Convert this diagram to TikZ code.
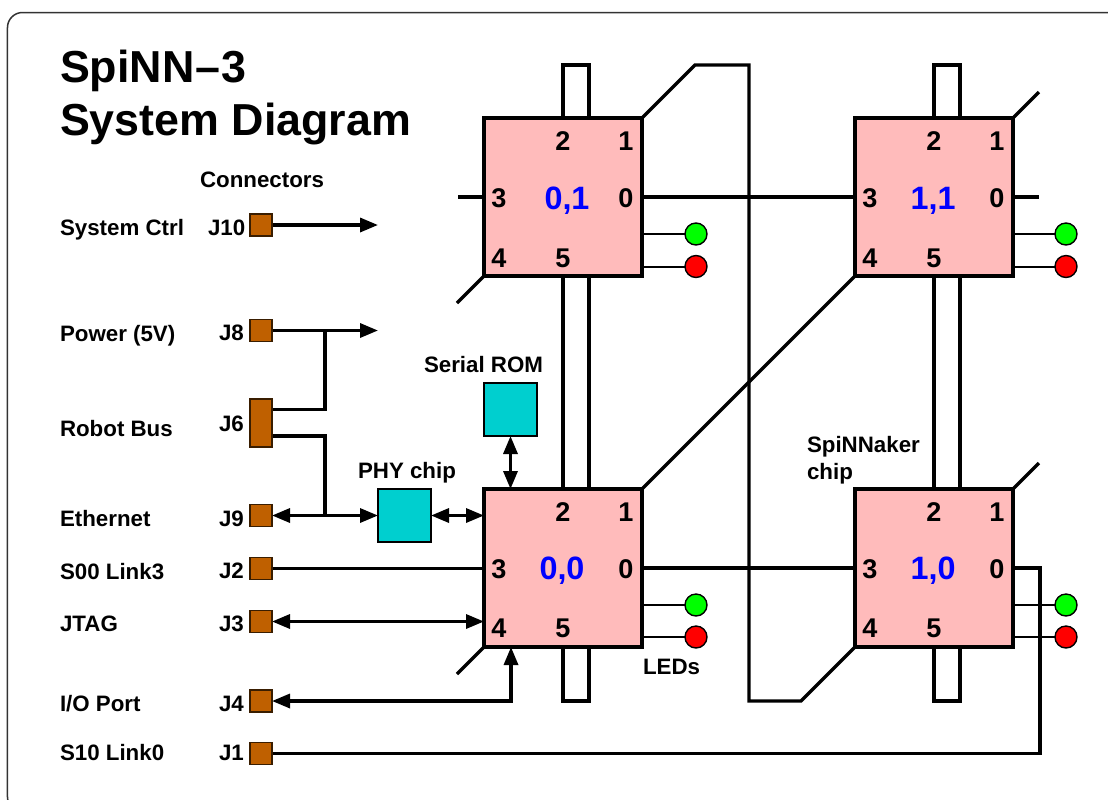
\documentclass[tikz,border=0pt]{standalone}
\usepackage{fontspec}
\setmainfont{Liberation Sans}
\usetikzlibrary{arrows.meta}
\pgfdeclarelayer{bg}
\pgfsetlayers{bg,main}
\definecolor{chippink}{RGB}{255,187,187}
\definecolor{portbrown}{RGB}{191,96,0}
\definecolor{devcyan}{RGB}{0,207,207}
\tikzset{
    every node/.style={inner sep=0mm, outer sep=0mm, font=\bfseries\fontsize{6.35}{7}\selectfont},
    title/.style={anchor=base west, font=\bfseries\fontsize{12.75}{14}\selectfont},
    lbl/.style={anchor=base west},
    num/.style={font=\bfseries\fontsize{7.7}{8}\selectfont},
    coord/.style={anchor=base, text=blue, font=\bfseries\fontsize{9.2}{10}\selectfont},
    chip/.style={rectangle, draw, line width=.36mm, fill=chippink, minimum size=1.58cm},
    port/.style={rectangle, draw=black!70!portbrown, line width=.12mm, fill=portbrown, minimum size=.22cm},
    dev/.style={rectangle, draw, line width=.22mm, fill=devcyan, minimum size=.53cm},
    led/.style={circle, draw, line width=.14mm, minimum size=.22cm},
    link/.style={line width=.33mm},
    thinlink/.style={line width=.2mm},
    tip/.style={-{Triangle[length=1.8mm,width=1.4mm]}},
    bitip/.style={{Triangle[length=1.8mm,width=1.4mm]}-{Triangle[length=1.8mm,width=1.4mm]}}
}

\begin{document}
\begin{tikzpicture}[y=-1cm]
    \useasboundingbox (0,0) rectangle (11.08,7.99);
    \clip (0,0) rectangle (11.08,7.99);
    \draw [line width=.15mm, black!80, rounded corners=.15cm] (.075,.125) rectangle (11.6,8.12);

    \node (title1) [title] at (.60,.82) {SpiNN\kern.03em–\kern.03em3};
    \node (title2) [title] at (.60,1.35) {System Diagram};
    \node (connlbl) [lbl] at (2.00,1.87) {Connectors};

    % left column of names
    \node (nctrl) [lbl] at (.60,2.35) {System Ctrl};
    \node (npower) [lbl] at (.60,3.41) {Power (5V)};
    \node (nrobot) [lbl] at (.60,4.36) {Robot Bus};
    \node (neth) [lbl] at (.60,5.26) {Ethernet};
    \node (nsoo) [lbl] at (.60,5.79) {S00 Link3};
    \node (njtag) [lbl] at (.60,6.31) {JTAG};
    \node (nio) [lbl] at (.60,7.11) {I/O Port};
    \node (nsio) [lbl] at (.60,7.60) {S10 Link0};

    \node (lj10) [lbl] at (2.08,2.35) {J10};
    \node (lj8) [lbl] at (2.19,3.40) {J8};
    \node (lj6) [lbl] at (2.19,4.31) {J6};
    \node (lj9) [lbl] at (2.19,5.26) {J9};
    \node (lj2) [lbl] at (2.19,5.78) {J2};
    \node (lj3) [lbl] at (2.19,6.31) {J3};
    \node (lj4) [lbl] at (2.19,7.11) {J4};
    \node (lj1) [lbl] at (2.19,7.60) {J1};

    % connectors
    \node (j10) [port] at (2.61,2.25) {};
    \node (j8) [port] at (2.61,3.305) {};
    \node (j6) [port, minimum height=.48cm] at (2.61,4.23) {};
    \node (j9) [port] at (2.61,5.155) {};
    \node (j2) [port] at (2.61,5.685) {};
    \node (j3) [port] at (2.61,6.215) {};
    \node (j4) [port] at (2.61,7.01) {};
    \node (j1) [port] at (2.61,7.535) {};

    \coordinate (ctrlend) at (3.78,2.25);
    \coordinate (powerend) at (3.78,3.305);
    \coordinate (buswest) at (3.25,4.095);
    \coordinate (buseast) at (3.25,4.36);

    % devices
    \node (romlbl) [lbl] at (4.24,3.72) {Serial ROM};
    \node (rom) [dev] at (5.105,4.095) {};
    \node (phylbl) [lbl] at (3.58,4.78) {PHY chip};
    \node (phy) [dev] at (4.045,5.155) {};
    \node (chiplbla) [lbl] at (8.07,4.52) {SpiNNaker};
    \node (chiplblb) [lbl] at (8.07,4.79) {chip};
    \node (ledlbl) [lbl] at (6.43,6.74) {LEDs};

    % chips
    \node (c01) [chip] at (5.63,1.97) {};
    \node (c11) [chip] at (9.34,1.97) {};
    \node (c00) [chip] at (5.63,5.68) {};
    \node (c10) [chip] at (9.34,5.68) {};

    \node (c01n) [coord] at (5.67,2.09) {0,1};
    \node (c01p0) [num] at (6.26,1.98) {0};
    \node (c01p1) [num] at (6.26,1.41) {1};
    \node (c01p2) [num] at (5.63,1.41) {2};
    \node (c01p3) [num] at (4.99,1.98) {3};
    \node (c01p4) [num] at (4.99,2.58) {4};
    \node (c01p5) [num] at (5.63,2.58) {5};

    \node (c11n) [coord] at (9.33,2.09) {1,1};
    \node (c11p0) [num] at (9.97,1.98) {0};
    \node (c11p1) [num] at (9.97,1.41) {1};
    \node (c11p2) [num] at (9.34,1.41) {2};
    \node (c11p3) [num] at (8.70,1.98) {3};
    \node (c11p4) [num] at (8.70,2.58) {4};
    \node (c11p5) [num] at (9.34,2.58) {5};

    \node (c00n) [coord] at (5.62,5.79) {0,0};
    \node (c00p0) [num] at (6.26,5.69) {0};
    \node (c00p1) [num] at (6.26,5.12) {1};
    \node (c00p2) [num] at (5.63,5.12) {2};
    \node (c00p3) [num] at (4.99,5.69) {3};
    \node (c00p4) [num] at (4.99,6.28) {4};
    \node (c00p5) [num] at (5.63,6.28) {5};

    \node (c10n) [coord] at (9.33,5.79) {1,0};
    \node (c10p0) [num] at (9.97,5.69) {0};
    \node (c10p1) [num] at (9.97,5.12) {1};
    \node (c10p2) [num] at (9.34,5.12) {2};
    \node (c10p3) [num] at (8.70,5.69) {3};
    \node (c10p4) [num] at (8.70,6.28) {4};
    \node (c10p5) [num] at (9.34,6.28) {5};

    % LEDs
    \node (g01) [led, fill=green] at (6.96,2.34) {};
    \node (r01) [led, fill=red] at (6.96,2.665) {};
    \node (g11) [led, fill=green] at (10.66,2.34) {};
    \node (r11) [led, fill=red] at (10.66,2.665) {};
    \node (g00) [led, fill=green] at (6.96,6.05) {};
    \node (r00) [led, fill=red] at (6.96,6.37) {};
    \node (g10) [led, fill=green] at (10.66,6.05) {};
    \node (r10) [led, fill=red] at (10.66,6.37) {};

    \begin{pgfonlayer}{bg}
        \draw [thinlink] (g01) -- (g01 -| c01.east);
        \draw [thinlink] (r01) -- (r01 -| c01.east);
        \draw [thinlink] (g11) -- (g11 -| c11.east);
        \draw [thinlink] (r11) -- (r11 -| c11.east);
        \draw [thinlink] (g00) -- (g00 -| c00.east);
        \draw [thinlink] (r00) -- (r00 -| c00.east);
        \draw [thinlink] (g10) -- (g10 -| c10.east);
        \draw [thinlink] (r10) -- (r10 -| c10.east);

        % vertical links
        \draw [link] (c01.north) -- ++(0,-.53) -| ([xshift=.26cm]c01.north);
        \draw [link] (c11.north) -- ++(0,-.53) -| ([xshift=.26cm]c11.north);
        \draw [link] (c00.south) -- ++(0,.54) -| ([xshift=.26cm]c00.south);
        \draw [link] (c10.south) -- ++(0,.54) -| ([xshift=.26cm]c10.south);
        \draw [link] (c01.south) -- (c00.north);
        \draw [link] ([xshift=.26cm]c01.south) -- ([xshift=.26cm]c00.north);
        \draw [link] (c11.south) -- (c10.north);
        \draw [link] ([xshift=.26cm]c11.south) -- ([xshift=.26cm]c10.north);

        % horizontal links
        \draw [link] (c01.west) -- ++(-.26,0);
        \draw [link] (c01.east) -- (c11.west);
        \draw [link] (c11.east) -- ++(.26,0);
        \draw [link] (c00.east) -- (c10.west);

        % diagonal links
        \draw [link] (c01.north east) -- ++(.53,-.53) -- ++(.54,0) -- ++(0,6.36) -- ++(.52,0) -- (c10.south west);
        \draw [link] (c00.north east) -- (c11.south west);
        \draw [link] (c01.south west) -- ++(-.27,.27);
        \draw [link] (c00.south west) -- ++(-.27,.27);
        \draw [link] (c11.north east) -- ++(.26,-.26);
        \draw [link] (c10.north east) -- ++(.26,-.26);

        % board connections
        \draw [link, tip] (j10.east) -- (ctrlend);
        \draw [link, tip] (j8.east) -- (powerend);
        \draw [link] (j6.east |- buswest) -| (j8.east -| buswest);
        \draw [link] (j6.east |- buseast) -| (j9.east -| buseast);
        \draw [link, bitip] (j9.east) -- (phy.west |- j9.east);
        \draw [link, bitip] (phy.east) -- (phy.east -| c00.west);
        \draw [link, bitip] (rom.south) -- (rom.south |- c00.north);
        \draw [link] (j2.east) -- (j2.east -| c00.west);
        \draw [link, bitip] (j3.east) -- (j3.east -| c00.west);
        \draw [link, bitip] (j4.east) -| ([xshift=-.52cm]c00.south);
        \draw [link] (j1.east) -- ++(7.68,0) |- (c10.east);
    \end{pgfonlayer}
\end{tikzpicture}
\end{document}
